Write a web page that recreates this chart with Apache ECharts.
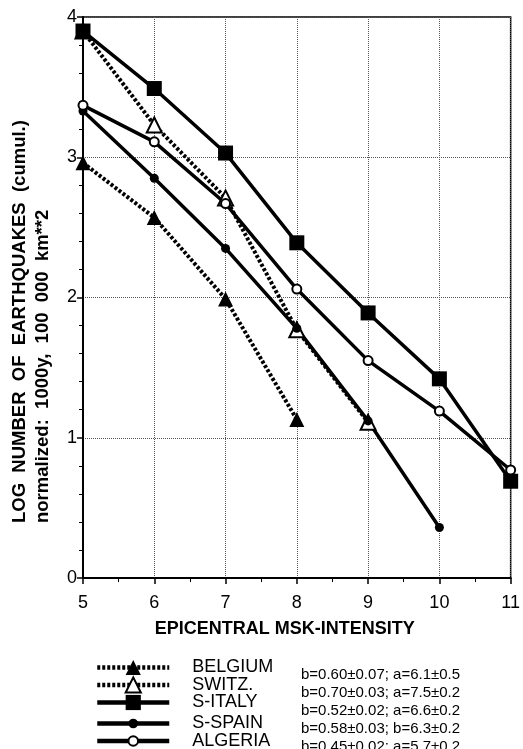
<!DOCTYPE html>
<html>
<head>
<meta charset="utf-8">
<script src="https://cdn.jsdelivr.net/npm/echarts@6/dist/echarts.min.js"></script>
<style>
  html, body { margin: 0; padding: 0; background: #fff; }
  #chart { width: 523px; height: 749px; }
</style>
</head>
<body>
<div id="chart"></div>
<script>
// intensities on the x axis
const intensity = [5, 6, 7, 8, 9, 10, 11];
// log cumulative numbers
const belgium = [2.96, 2.57, 1.99, 1.13];
const switz = [3.90, 3.23, 2.71, 1.77, 1.11];
const sItaly = [3.90, 3.49, 3.03, 2.39, 1.89, 1.42, 0.69];
const sSpain = [3.33, 2.85, 2.35, 1.78, 1.12, 0.36];
const algeria = [3.37, 3.11, 2.67, 2.06, 1.55, 1.19, 0.77];
const names = ['BELGIUM', 'SWITZ.', 'S-ITALY', 'S-SPAIN', 'ALGERIA'];
const fitText = [
  'b=0.60±0.07; a=6.1±0.5',
  'b=0.70±0.03; a=7.5±0.2',
  'b=0.52±0.02; a=6.6±0.2',
  'b=0.58±0.03; b=6.3±0.2',
  'b=0.45±0.02; a=5.7±0.2'
];

const pts = vals => vals.map((v, i) => [intensity[i], v]);
const FONT = 'Liberation Sans, Arial, sans-serif';

const chart = echarts.init(document.getElementById('chart'));

function line(name, vals, symbol, size, dotted) {
  return {
    name: name,
    type: 'line',
    data: pts(vals),
    symbol: symbol,
    symbolSize: size,
    showAllSymbol: true,
    animation: false,
    lineStyle: {
      color: '#000',
      width: dotted ? 4 : 3.5,
      type: dotted ? [3, 2] : 'solid'
    },
    itemStyle: { color: '#000', borderWidth: 1.5 }
  };
}

// one legend per row so that each row gets its own marker size
// (echarts draws the legend marker at 80% of itemHeight)
const rowY = [668, 685.5, 703, 720.5, 738];
const rowH = [19, 19, 19, 12, 12];
const legends = names.map((n, i) => ({
  orient: 'vertical', padding: 0,
  left: 95, top: rowY[i] - rowH[i] / 2,
  itemWidth: 72, itemHeight: rowH[i],
  lineStyle: { width: 4.5 },
  data: [n],
  textStyle: {
    color: '#000',
    rich: { n: { fontFamily: FONT, fontSize: 18, color: '#000', padding: [0, 0, 0, 18] } }
  },
  formatter: s => '{n|' + s + '}'
}));
legends.push({
  orient: 'vertical', padding: 0,
  left: 296, top: 666, height: 100,
  itemWidth: 0, itemHeight: 18, itemGap: 0,
  icon: 'none',
  data: names,
  formatter: n => fitText[names.indexOf(n)],
  textStyle: { color: '#000', fontFamily: FONT, fontSize: 15, lineHeight: 18 }
});

const option = {
  backgroundColor: '#fff',
  grid: {
    left: 83, right: 7, top: 17, bottom: 171,
    show: true, borderColor: '#000', borderWidth: 1.5
  },
  xAxis: {
    type: 'value',
    min: 5, max: 11, interval: 1,
    name: 'EPICENTRAL MSK-INTENSITY',
    nameLocation: 'middle',
    nameGap: 42,
    nameTextStyle: { fontFamily: FONT, fontSize: 18, fontWeight: 'bold', color: '#000', padding: [0, 24, 0, 0] },
    axisLine: { lineStyle: { color: '#000', width: 2 } },
    axisTick: { show: true, length: 6, lineStyle: { color: '#000', width: 1.5 } },
    minorTick: { show: true, splitNumber: 2, length: 4, lineStyle: { color: '#000' } },
    axisLabel: { fontFamily: FONT, fontSize: 18, color: '#000', margin: 16 },
    splitLine: { show: true, lineStyle: { color: '#555', type: [1, 1], width: 1 } }
  },
  yAxis: {
    type: 'value',
    min: 0, max: 4, interval: 1,
    axisLine: { show: true, lineStyle: { color: '#000', width: 2 } },
    axisTick: { show: true, length: 6, lineStyle: { color: '#000', width: 1.5 } },
    minorTick: { show: true, splitNumber: 5, length: 4, lineStyle: { color: '#000' } },
    axisLabel: { fontFamily: FONT, fontSize: 18, color: '#000', margin: 6 },
    splitLine: { show: true, lineStyle: { color: '#555', type: [1, 1], width: 1 } }
  },
  // y title: two rotated lines, bottom-aligned as in the original
  graphic: [
    {
      type: 'text', x: 20, y: 523, rotation: Math.PI / 2,
      style: { text: 'LOG  NUMBER  OF  EARTHQUAKES  (cumul.)', fontFamily: FONT, fontSize: 18.5, fontWeight: 'bold', fill: '#000', align: 'left', verticalAlign: 'middle' }
    },
    {
      type: 'text', x: 43, y: 523, rotation: Math.PI / 2,
      style: { text: 'normalized:  1000y,  100  000  km**2', fontFamily: FONT, fontSize: 18.5, fontWeight: 'bold', fill: '#000', align: 'left', verticalAlign: 'middle' }
    }
  ],
  legend: legends,
  series: [
    line('BELGIUM', belgium, 'triangle', 15, true),
    line('SWITZ.', switz, 'emptyTriangle', 15, true),
    line('S-ITALY', sItaly, 'rect', 15, false),
    line('S-SPAIN', sSpain, 'circle', 9, false),
    line('ALGERIA', algeria, 'emptyCircle', 9, false)
  ]
};

chart.setOption(option);
</script>
</body>
</html>
